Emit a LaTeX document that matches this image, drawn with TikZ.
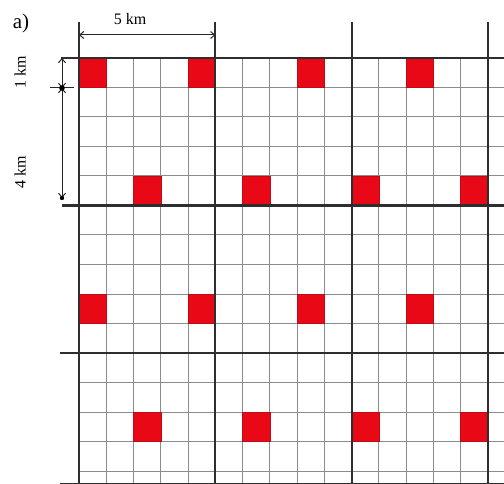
\documentclass[tikz,border=0pt]{standalone}
\usepackage{fontspec}
\setmainfont{Liberation Serif}
\usetikzlibrary{arrows.meta}
\begin{document}
\begin{tikzpicture}[x=1pt,y=-1pt,
  thingrid/.style={draw=black!45, line width=1pt},
  thickgrid/.style={draw=black!82, line width=2.1pt},
  redcell/.style={fill={rgb,255:red,232;green,8;blue,22}, draw={rgb,255:red,190;green,10;blue,20}, line width=0.6pt},
  dim/.style={draw=black!85, line width=1pt, {Straight Barb[length=4pt,width=7pt]}-{Straight Barb[length=4pt,width=7pt]}},
  lbl/.style={font=\fontsize{16}{16}\selectfont, inner sep=0pt}
]
\useasboundingbox (0,0) rectangle (504,484);
\def\cw{27.27}
\def\ch{29.5}
% thin grid
\foreach \j in {0,...,14} \draw[thingrid] (79,{58+\j*\ch}) -- (504,{58+\j*\ch});
\foreach \k in {0,...,15} \draw[thingrid] ({79+\k*\cw},58) -- ({79+\k*\cw},484);
% red squares
\foreach \r/\c in {0/0,0/4,0/8,0/12,8/0,8/4,8/8,8/12,4/2,4/6,4/10,4/14,12/2,12/6,12/10,12/14}
  \filldraw[redcell] ({79+\c*\cw},{58+\r*\ch}) rectangle +(\cw,\ch);
% thick grid
\foreach \k in {0,5,10,15} \draw[thickgrid] ({79+\k*\cw},22) -- ({79+\k*\cw},484);
\draw[thickgrid] (61,58) -- (504,58);
\draw[thickgrid] (62,205.5) -- (504,205.5);
\draw[thickgrid] (60,353) -- (504,353);
\draw[thickgrid] (60,484) -- (504,484);
% dimension coordinates
\coordinate (h1) at (79,35);
\coordinate (h2) at ({79+5*\cw},35);
\coordinate (v1) at (62,58);
\coordinate (v2) at (62,88);
\coordinate (v3) at (62,198);
\draw[dim] (h1) -- (h2);
\draw[dim] (v1) -- (v2);
\draw[dim] (v2) -- (v3);
\draw[black!85, line width=1pt] (50,88) -- (74,88);
\fill[black] (v2) circle (2.8pt);
\fill[black] (v3) circle (2.2pt);
% labels
\node[lbl] (t5) at (130,19) {5 km};
\node[lbl, rotate=90] (t1) at (20,72) {1 km};
\node[lbl, rotate=90] (t4) at (20,172) {4 km};
\node[font=\fontsize{21}{21}\selectfont, inner sep=0pt] (ta) at (21,23) {a)};
\end{tikzpicture}
\end{document}
